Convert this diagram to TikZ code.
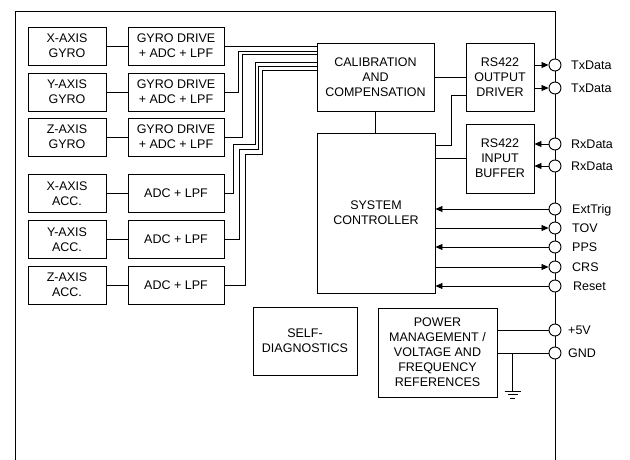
\documentclass[tikz,border=0pt]{standalone}
\usepackage{fontspec}
\setmainfont{Liberation Sans}
\usetikzlibrary{arrows.meta}
\newcommand{\fs}{\fontsize{12.5}{15}\selectfont}
\begin{document}
\begin{tikzpicture}[x=1pt,y=-1pt,
  box/.style={draw, line width=0.9pt, align=center, inner sep=0pt, font=\fs},
  pin/.style={circle, draw, line width=0.9pt, fill=white, minimum size=12pt, inner sep=0pt},
  lbl/.style={anchor=west, inner sep=0pt, font=\fs, text height=9pt, text depth=0pt},
  wire/.style={line width=0.8pt},
  arr/.style={wire, -{Triangle[length=7pt,width=6pt]}}]
\useasboundingbox (0,0) rectangle (630,460);
% outer border
\draw[line width=0.9pt] (15,460) -- (15,11) -- (555,11) -- (555,460);
% sensor boxes
\node[box, minimum width=78pt, minimum height=38pt] (gx) at (67,46) {X-AXIS\\GYRO};
\node[box, minimum width=78pt, minimum height=38pt] (gy) at (67,92) {Y-AXIS\\GYRO};
\node[box, minimum width=78pt, minimum height=38pt] (gz) at (67,137) {Z-AXIS\\GYRO};
\node[box, minimum width=78pt, minimum height=38pt] (ax) at (67,193.5) {X-AXIS\\ACC.};
\node[box, minimum width=78pt, minimum height=38pt] (ay) at (67,239.5) {Y-AXIS\\ACC.};
\node[box, minimum width=78pt, minimum height=38pt] (az) at (67,285) {Z-AXIS\\ACC.};
% conditioning boxes
\node[box, minimum width=96pt, minimum height=38pt] (dgx) at (176,46) {GYRO DRIVE\\+ ADC + LPF};
\node[box, minimum width=96pt, minimum height=38pt] (dgy) at (176,92) {GYRO DRIVE\\+ ADC + LPF};
\node[box, minimum width=96pt, minimum height=38pt] (dgz) at (176,137) {GYRO DRIVE\\+ ADC + LPF};
\node[box, minimum width=96pt, minimum height=38pt] (dax) at (176,193.5) {ADC + LPF};
\node[box, minimum width=96pt, minimum height=38pt] (day) at (176,239.5) {ADC + LPF};
\node[box, minimum width=96pt, minimum height=38pt] (daz) at (176,285) {ADC + LPF};
% main blocks
\node[box, minimum width=117pt, minimum height=68pt] (cal) at (375.5,77) {CALIBRATION\\AND\\COMPENSATION};
\node[box, minimum width=118pt, minimum height=160pt] (sc) at (376,213) {SYSTEM\\CONTROLLER};
\node[box, minimum width=68pt, minimum height=68pt] (out) at (500,77) {RS422\\OUTPUT\\DRIVER};
\node[box, minimum width=68pt, minimum height=69pt] (inb) at (500,158.5) {RS422\\INPUT\\BUFFER};
\node[box, minimum width=104pt, minimum height=68pt] (self) at (305,341) {SELF-\\DIAGNOSTICS};
\node[box, minimum width=119pt, minimum height=89pt] (pwr) at (437.5,352.5) {POWER\\MANAGEMENT /\\VOLTAGE AND\\FREQUENCY\\REFERENCES};
% sensor to conditioning
\foreach \a/\b in {gx/dgx, gy/dgy, gz/dgz, ax/dax, ay/day, az/daz}
  \draw[wire] (\a.east) -- (\b.west);
% bus into calibration
\draw[wire] (dgx.east) -- (cal.west |- dgx.east);
\draw[wire] (dgy.east) -| (238,51) -- (cal.west |- 0,51);
\draw[wire] (dgz.east) -| (242,54) -- (cal.west |- 0,54);
\draw[wire] (dax.east) -| (233,144) -| (255,62) -- (cal.west |- 0,62);
\draw[wire] (day.east) -| (239,149) -| (258,66) -- (cal.west |- 0,66);
\draw[wire] (daz.east) -| (245,154) -| (262,70) -- (cal.west |- 0,70);
% internal links
\draw[wire] (cal.south) -- (sc.north -| cal.south);
\draw[wire] (cal.east) -- (out.west);
\draw[wire] (out.west |- 0,95) -| (451,145) -- (sc.east |- 0,145);
\draw[wire] (inb.west) -- (sc.east |- inb.west);
% pins
\node[pin] (ptx1) at (555,65) {};
\node[pin] (ptx2) at (555,88) {};
\node[pin] (prx1) at (555,144) {};
\node[pin] (prx2) at (555,166) {};
\node[pin] (pext) at (555,209) {};
\node[pin] (ptov) at (555,228) {};
\node[pin] (ppps) at (555,247) {};
\node[pin] (pcrs) at (555,267) {};
\node[pin] (prst) at (555,286) {};
\node[pin] (p5v) at (555,330) {};
\node[pin] (pgnd) at (555,353) {};
% labels
\node[lbl] (ltx1) at (571,65) {TxData};
\node[lbl] (ltx2) at (571,88) {TxData};
\node[lbl] (lrx1) at (571,144) {RxData};
\node[lbl] (lrx2) at (571,166) {RxData};
\node[lbl] (lext) at (572,209) {ExtTrig};
\node[lbl] (ltov) at (572,228) {TOV};
\node[lbl] (lpps) at (572,247) {PPS};
\node[lbl] (lcrs) at (572,267) {CRS};
\node[lbl] (lrst) at (573,286) {Reset};
\node[lbl] (l5v) at (568,330) {+5V};
\node[lbl] (lgnd) at (568,353) {GND};
% RS422 arrows
\draw[arr] (out.east |- ptx1) -- (ptx1.west);
\draw[arr] (out.east |- ptx2) -- (ptx2.west);
\draw[arr] (prx1.west) -- (inb.east |- prx1);
\draw[arr] (prx2.west) -- (inb.east |- prx2);
% controller signals
\draw[arr] (pext.west) -- (sc.east |- pext);
\draw[arr] (sc.east |- ptov) -- (ptov.west);
\draw[arr] (ppps.west) -- (sc.east |- ppps);
\draw[arr] (sc.east |- pcrs) -- (pcrs.west);
\draw[arr] (prst.west) -- (sc.east |- prst);
% power
\draw[wire] (pwr.east |- p5v) -- (p5v.west);
\draw[wire] (pwr.east |- pgnd) -- (pgnd.west);
\coordinate (gtap) at (512.5,353);
\coordinate (gbot) at (512.5,391);
\draw[wire] (gtap) -- (gbot);
\draw[wire] ([xshift=-8pt]gbot) -- ([xshift=8pt]gbot);
\draw[wire] ([xshift=-5pt,yshift=-3.5pt]gbot) -- ([xshift=5pt,yshift=-3.5pt]gbot);
\draw[wire] ([xshift=-2.5pt,yshift=-7pt]gbot) -- ([xshift=2.5pt,yshift=-7pt]gbot);
\end{tikzpicture}
\end{document}
